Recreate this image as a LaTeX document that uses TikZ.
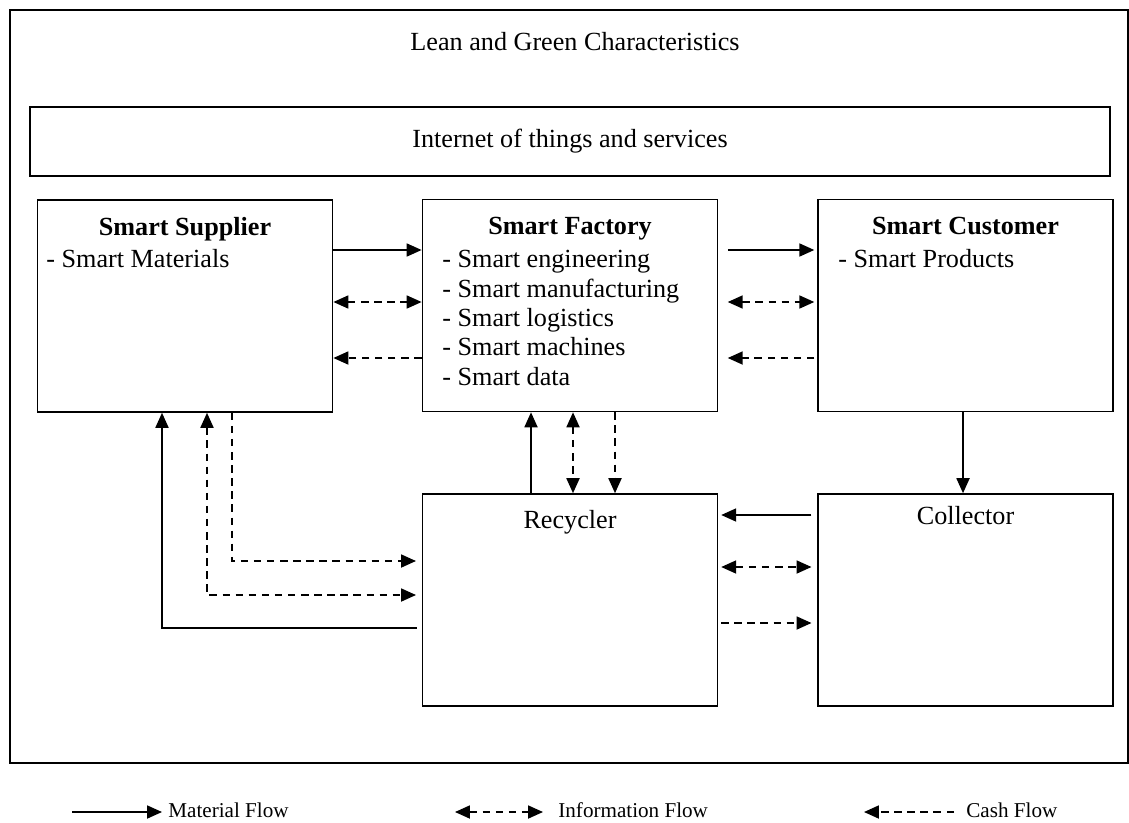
\documentclass[tikz,border=0pt]{standalone}
\usepackage{fontspec}
\setmainfont{Liberation Serif}
\usetikzlibrary{positioning,arrows.meta}

\begin{document}
\begin{tikzpicture}[
    x=0.535pt, y=-0.535pt,
    >={Triangle[length=8pt,width=7pt]},
    font=\fontsize{14}{16}\selectfont,
    every node/.style={inner sep=0pt},
    unit/.style={draw, line width=0.8pt, minimum width=158pt, minimum height=113.5pt},
    head/.style={font=\fontsize{14}{16}\selectfont\bfseries},
    items/.style={align=left, font=\fontsize{14}{15.7}\selectfont},
    mat/.style={->, line width=0.8pt},
    info/.style={<->, line width=0.8pt, dash pattern=on 4pt off 3pt},
    cash/.style={->, line width=0.8pt, dash pattern=on 4pt off 3pt},
    legend/.style={font=\fontsize{11.3}{13}\selectfont, anchor=west}
]
\useasboundingbox (0,0) rectangle (1129,822);

% frame and banner
\draw[line width=0.8pt] (10,10) rectangle (1128,763);
\node (title) at (575,42) {Lean and Green Characteristics};
\node[draw, line width=0.8pt, minimum width=578pt, minimum height=37pt] (iot) at (570,141.5) {Internet of things and services};

% the five parties
\node[unit] (sup) at (185,306) {};
\node[unit] (fac) at (570,305.5) {};
\node[unit] (cus) at (965.5,305.5) {};
\node[unit] (rec) at (570,600) {};
\node[unit] (col) at (965.5,600) {};

\node[head, below=9.5pt of sup.north] (suphead) {Smart Supplier};
\node[items, anchor=north west] (supitems) at (46,249) {- Smart Materials};
\node[head, below=9.5pt of fac.north] (fachead) {Smart Factory};
\node[items, anchor=north west] (facitems) at (442,250) {- Smart engineering\\- Smart manufacturing\\- Smart logistics\\- Smart machines\\- Smart data};
\node[head, below=9.5pt of cus.north] (cushead) {Smart Customer};
\node[items, anchor=north west] (cusitems) at (838,249) {- Smart Products};
\node[below=9pt of rec.north] (reclab) {Recycler};
\node[below=7pt of col.north] (collab) {Collector};

% supplier - factory - customer
\draw[mat] (sup.east |- 0,250) -- (fac.west |- 0,250);
\draw[info] (sup.east |- 0,302) -- (fac.west |- 0,302);
\draw[cash] (fac.west |- 0,358) -- (sup.east |- 0,358);
\draw[mat, shorten <=5pt, shorten >=1.5pt] (fac.east |- 0,250) -- (cus.west |- 0,250);
\draw[info, shorten <=5pt, shorten >=1.5pt] (fac.east |- 0,302) -- (cus.west |- 0,302);
\draw[cash, shorten <=1.5pt, shorten >=5pt] (cus.west |- 0,358) -- (fac.east |- 0,358);

% customer - collector - recycler
\draw[mat] (cus.south -| 963,0) -- (col.north -| 963,0);
\draw[mat, shorten <=3pt, shorten >=1.5pt] (col.west |- 0,515) -- (rec.east |- 0,515);
\draw[info, shorten <=1.5pt, shorten >=3pt] (rec.east |- 0,567) -- (col.west |- 0,567);
\draw[cash, shorten <=1.5pt, shorten >=3pt] (rec.east |- 0,623) -- (col.west |- 0,623);

% recycler - factory
\draw[mat] (rec.north -| 531,0) -- (fac.south -| 531,0);
\draw[info] (fac.south -| 573,0) -- (rec.north -| 573,0);
\draw[cash] (fac.south -| 615,0) -- (rec.north -| 615,0);

% recycler - supplier
\draw[mat, shorten <=2.5pt] (rec.west |- 0,628) -| (sup.south -| 162,0);
\draw[info, shorten >=3pt] (sup.south -| 207,0) |- (rec.west |- 0,595);
\draw[cash, shorten >=3pt] (sup.south -| 232,0) |- (rec.west |- 0,561);

% legend
\node[legend] (matlab) at (168,810) {Material Flow};
\node[legend] (infolab) at (558,810) {Information Flow};
\node[legend] (cashlab) at (966,810) {Cash Flow};
\coordinate (mat0) at (72,812);
\coordinate (info0) at (455,812);
\coordinate (cash0) at (864,812);
\draw[mat] (mat0) -- (mat0 -| 162,0);
\draw[info] (info0) -- (info0 -| 543,0);
\draw[cash] (cash0 -| 954,0) -- (cash0);
\end{tikzpicture}
\end{document}
